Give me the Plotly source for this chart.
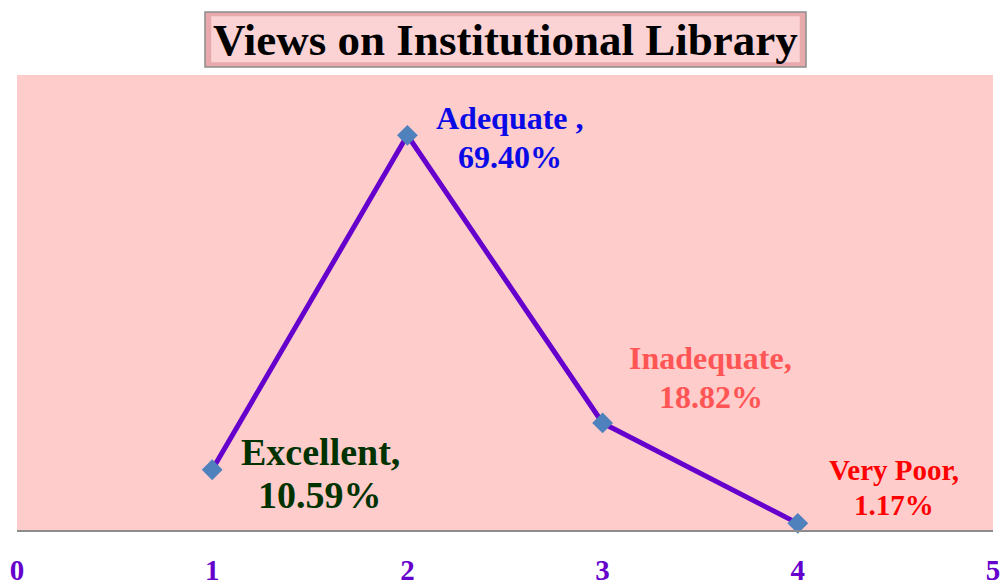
import plotly.graph_objects as go

categories = ["Excellent", "Adequate", "Inadequate", "Very Poor"]
x_pos = [1, 2, 3, 4]
percent = [10.59, 69.40, 18.82, 1.17]
label_sep = [",", " ,", ",", ","]
tick_vals = [0, 1, 2, 3, 4, 5]
tick_text = ["0", "1", "2", "3", "4", "5"]
title_text = "Views on Institutional Library"

label_colors = ["#003300", "#0A0AE6", "#FF5555", "#FF0000"]
label_sizes = [38, 32, 32, 29]
# pixel offsets (xshift, yshift line1, yshift line2)
label_offsets = [(108, 18, -25), (103, 17, -22), (108, 65, 26), (96, 53, 18)]

FONT = "Liberation Serif"

fig = go.Figure()
fig.add_trace(go.Scatter(
    x=x_pos, y=percent, mode="lines+markers",
    line=dict(color="#6600CC", width=5),
    marker=dict(symbol="diamond", size=16, color="#4F81BD"),
    hoverinfo="skip", showlegend=False, cliponaxis=False,
))

annotations = []
for i, cat in enumerate(categories):
    xs, y1, y2 = label_offsets[i]
    for txt, ys in ((f"<b>{cat}{label_sep[i]}</b>", y1), (f"<b>{percent[i]:.2f}%</b>", y2)):
        annotations.append(dict(
            x=x_pos[i], y=percent[i], xref="x", yref="y", text=txt,
            showarrow=False, xshift=xs, yshift=ys,
            xanchor="center", yanchor="middle",
            font=dict(family=FONT, size=label_sizes[i], color=label_colors[i]),
        ))

annotations.append(dict(
    x=0.5, y=1.078, xref="paper", yref="paper", text=f"<b>{title_text}</b>",
    showarrow=False, xanchor="center", yanchor="middle",
    font=dict(family=FONT, size=45, color="#000000"),
))

shapes = [
    dict(type="rect", xref="paper", yref="paper", x0=0.1926, x1=0.8084, y0=1.0176, y1=1.1385,
         fillcolor="#E8A9AC", line=dict(color="#8C8C8C", width=1.5), layer="above"),
    dict(type="rect", xref="paper", yref="paper", x0=0.1990, x1=0.8020, y0=1.0280, y1=1.1290,
         fillcolor="#FBD3D5", line=dict(width=0), layer="above"),
]

fig.update_layout(
    width=1004, height=587,
    margin=dict(l=17, r=11, t=75, b=57, autoexpand=False),
    paper_bgcolor="#FFFFFF", plot_bgcolor="#FFCCCC",
    xaxis=dict(range=[0, 5], tickvals=tick_vals, ticktext=[f"<b>{t}</b>" for t in tick_text],
               showgrid=False, zeroline=False, showline=True, linecolor="#8C8C8C", linewidth=2,
               ticks="", ticklabelstandoff=13, automargin=False,
               tickfont=dict(family=FONT, size=29, color="#6600CC")),
    yaxis=dict(range=[0, 80], showgrid=False, zeroline=False, showticklabels=False,
               showline=False, automargin=False),
    annotations=annotations, shapes=shapes,
)
fig.write_html("out.html", config={"displayModeBar": False},
               post_script="document.body.style.margin='0px';document.body.style.overflow='hidden';")
